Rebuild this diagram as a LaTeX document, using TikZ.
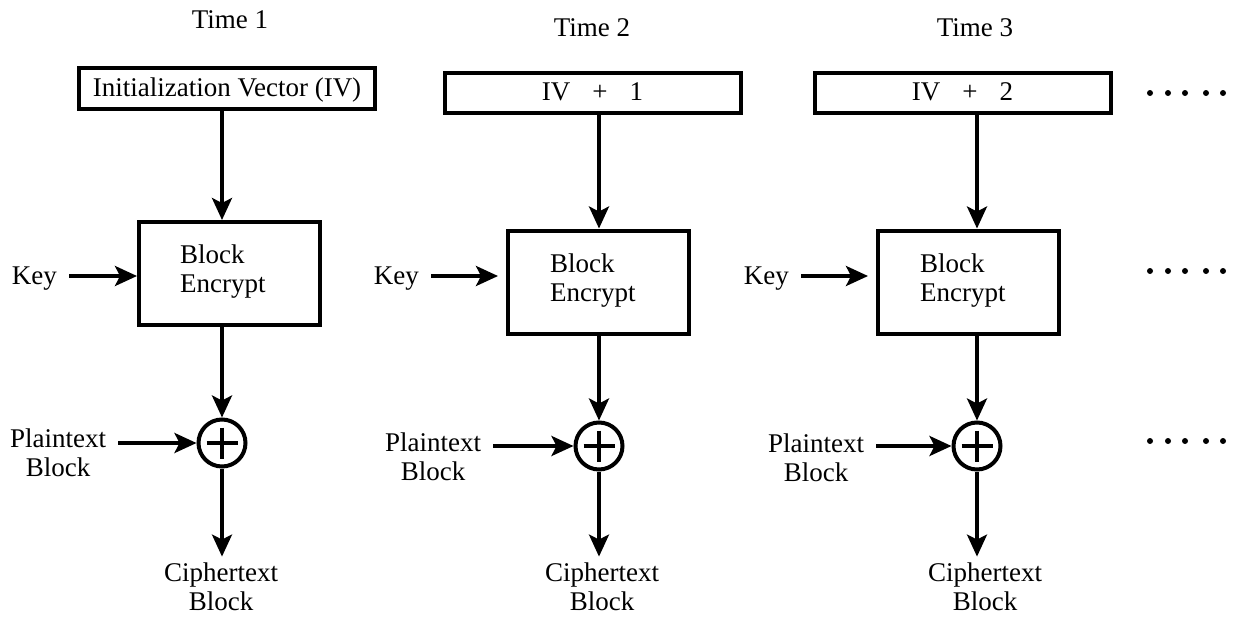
\documentclass[tikz,border=0pt]{standalone}
\usepackage{fontspec}
\setmainfont{Liberation Serif}
\usetikzlibrary{arrows.meta,calc}
\begin{document}
\begin{tikzpicture}[x=1pt,y=-1pt,
  txt/.style={font=\fontsize{27}{28.5}\selectfont, inner sep=0pt},
  ivbox/.style={txt, draw, line width=4pt, minimum width=296pt, minimum height=40pt, text height=18pt, text depth=3pt},
  encbox/.style={draw, line width=4pt, minimum width=181pt, minimum height=103pt, inner sep=0pt},
  enctxt/.style={txt, align=left, anchor=base west},
  xorc/.style={draw, circle, line width=4pt, minimum size=47pt, inner sep=0pt},
  arr/.style={line width=3.5pt, -{Stealth[length=22pt,width=20pt,inset=5pt]}},
  keytxt/.style={txt, text height=17pt, text depth=0pt, inner xsep=12pt, inner ysep=0pt, anchor=east},
  pttxt/.style={txt, align=center, inner xsep=12pt, anchor=base},
  cttxt/.style={txt, align=center, inner ysep=6pt, anchor=base},
  timetxt/.style={txt, anchor=base},
  dotc/.style={circle, fill, inner sep=0pt, minimum size=6pt}
]
\useasboundingbox (0,0) rectangle (1239,618);

% Column 1
\node[timetxt] (t1) at (230,29) {Time 1};
\node[ivbox] (iv1) at (227,88.5) {Initialization Vector (IV)};
\node[encbox] (blk1) at (229.5,273.5) {};
\node[enctxt] (bt1) at (180,292) {Block\\Encrypt};
\node[xorc] (x1) at (222,443) {};
\node[keytxt] (k1) at (69,276) {Key};
\node[pttxt] (p1) at (58,476) {Plaintext\\Block};
\node[cttxt] (c1) at (221,610) {Ciphertext\\Block};

% Column 2
\node[timetxt] (t2) at (592,37) {Time 2};
\node[ivbox] (iv2) at (592.5,93) {IV\hspace{22pt}+\hspace{22pt}1};
\node[encbox] (blk2) at (598.5,282) {};
\node[enctxt] (bt2) at (550,301) {Block\\Encrypt};
\node[xorc] (x2) at (599,446) {};
\node[keytxt] (k2) at (431,276) {Key};
\node[pttxt] (p2) at (433,480) {Plaintext\\Block};
\node[cttxt] (c2) at (602,610) {Ciphertext\\Block};

% Column 3
\node[timetxt] (t3) at (975,37) {Time 3};
\node[ivbox] (iv3) at (962.5,93) {IV\hspace{22pt}+\hspace{22pt}2};
\node[encbox] (blk3) at (968.5,282) {};
\node[enctxt] (bt3) at (920,301) {Block\\Encrypt};
\node[xorc] (x3) at (977,446) {};
\node[keytxt] (k3) at (801,276) {Key};
\node[pttxt] (p3) at (816,481) {Plaintext\\Block};
\node[cttxt] (c3) at (985,610) {Ciphertext\\Block};

% plus signs
\foreach \n in {x1,x2,x3}{
  \draw[line width=3.5pt] ($(\n.center)+(-15.5,0)$) -- ($(\n.center)+(15.5,0)$);
  \draw[line width=3.5pt] ($(\n.center)+(0,-15.5)$) -- ($(\n.center)+(0,15.5)$);
}

% connectors
\draw[arr] (iv1.south -| x1) -- (blk1.north -| x1);
\draw[arr] (blk1.south -| x1) -- (x1.north);
\draw[arr] (k1.east) -- (k1.east -| blk1.west);
\draw[arr] (p1.east |- x1) -- (x1.west);
\draw[arr] (x1.south) -- (x1.south |- c1.north);

\draw[arr] (iv2.south -| x2) -- (blk2.north -| x2);
\draw[arr] (blk2.south -| x2) -- (x2.north);
\draw[arr, shorten >=8pt] (k2.east) -- (k2.east -| blk2.west);
\draw[arr] (p2.east |- x2) -- (x2.west);
\draw[arr] (x2.south) -- (x2.south |- c2.north);

\draw[arr] (iv3.south -| x3) -- (blk3.north -| x3);
\draw[arr] (blk3.south -| x3) -- (x3.north);
\draw[arr, shorten >=8pt] (k3.east) -- (k3.east -| blk3.west);
\draw[arr] (p3.east |- x3) -- (x3.west);
\draw[arr] (x3.south) -- (x3.south |- c3.north);

% continuation dots
\foreach \r/\yy in {a/93,b/271,c/441}{
  \foreach \i/\xx in {1/1150,2/1168,3/1185,4/1206,5/1223}{
    \node[dotc] (d\r\i) at (\xx,\yy) {};
  }
}
\end{tikzpicture}
\end{document}
